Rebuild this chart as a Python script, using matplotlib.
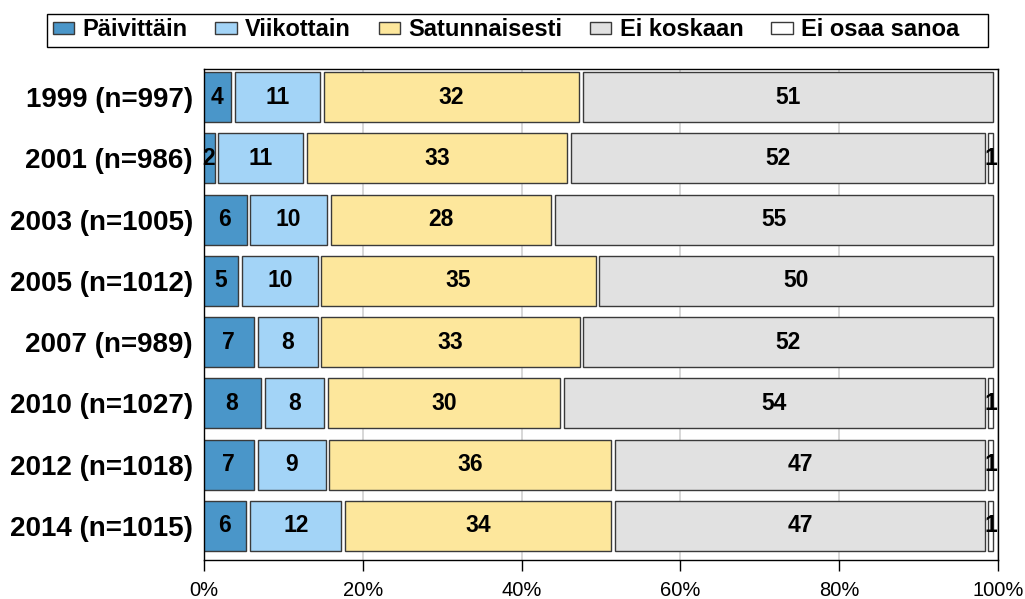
import matplotlib
matplotlib.use('Agg')
import matplotlib.pyplot as plt
from matplotlib.patches import Patch, Rectangle

plt.rcParams['font.family'] = ['Liberation Sans', 'DejaVu Sans']

# data
years = ['1999 (n=997)', '2001 (n=986)', '2003 (n=1005)', '2005 (n=1012)',
         '2007 (n=989)', '2010 (n=1027)', '2012 (n=1018)', '2014 (n=1015)']
series_names = ['Päivittäin', 'Viikottain', 'Satunnaisesti', 'Ei koskaan', 'Ei osaa sanoa']
paivittain = [4, 2, 6, 5, 7, 8, 7, 6]
viikottain = [11, 11, 10, 10, 8, 8, 9, 12]
satunnaisesti = [32, 33, 28, 35, 33, 30, 36, 34]
ei_koskaan = [51, 52, 55, 50, 52, 54, 47, 47]
ei_osaa = [0, 1, 0, 0, 0, 1, 1, 1]
xticks = [0, 20, 40, 60, 80, 100]

colors = ['#4a96c9', '#a3d4f7', '#fde79c', '#e1e1e1', '#ffffff']
series = [paivittain, viikottain, satunnaisesti, ei_koskaan, ei_osaa]

fig = plt.figure(figsize=(10.25, 5.99), dpi=100)
ax = fig.add_axes([204 / 1025, 1 - 560 / 599, (998 - 204) / 1025, (560 - 69) / 599])

gap = 0.47      # white gap between segments (in % units)
x0 = -0.45      # bars start slightly left of the axis
bar_h = 0.815

for i, lab in enumerate(years):
    vals = [s[i] for s in series]
    total = sum(vals)
    left = x0
    for v, c in zip(vals, colors):
        share = v / total * 100
        if v > 0:
            ax.barh(i, share - gap, left=left + gap / 2, height=bar_h,
                    color=c, edgecolor='#3a3a3a', linewidth=1.0, zorder=2)
            ax.text(left + share / 2, i, str(v), ha='center', va='center',
                    fontsize=16.5, fontweight='bold', color='black', zorder=4)
        left += share

ax.set_xlim(0, 100)
ax.set_ylim(7.555, -0.457)
ax.set_yticks(range(len(years)))
ax.set_yticklabels(years, fontsize=20, fontweight='bold')
ax.tick_params(axis='y', length=0, pad=8)
ax.set_xticks(xticks)
ax.set_xticklabels([f'{t}%' for t in xticks], fontsize=14.5)
ax.tick_params(axis='x', length=8, width=1, pad=7, direction='out')

ax.set_axisbelow(True)
ax.xaxis.grid(True, color='#d4d4d4', linewidth=1.3)
for sp in ax.spines.values():
    sp.set_color('black')
    sp.set_linewidth(1)

# legend entries (no frame), frame drawn separately so right padding matches
handles = [Patch(facecolor=c, edgecolor='#3a3a3a', linewidth=1) for c in colors]
leg = fig.legend(handles, series_names, ncol=5, mode='expand',
                 bbox_to_anchor=(47 / 1025, 1 - 47 / 599, (965 - 47) / 1025, 33 / 599),
                 loc='lower left', borderaxespad=0, frameon=False,
                 prop={'weight': 'bold', 'size': 17},
                 handlelength=0.9, handleheight=0.42, handletextpad=0.35,
                 borderpad=0.25)
fig.patches.append(Rectangle((47 / 1025, 1 - 47 / 599), (988 - 47) / 1025, 33 / 599,
                             transform=fig.transFigure, fill=False,
                             edgecolor='black', linewidth=1))

plt.savefig('out.png', dpi=100)
plt.close()
